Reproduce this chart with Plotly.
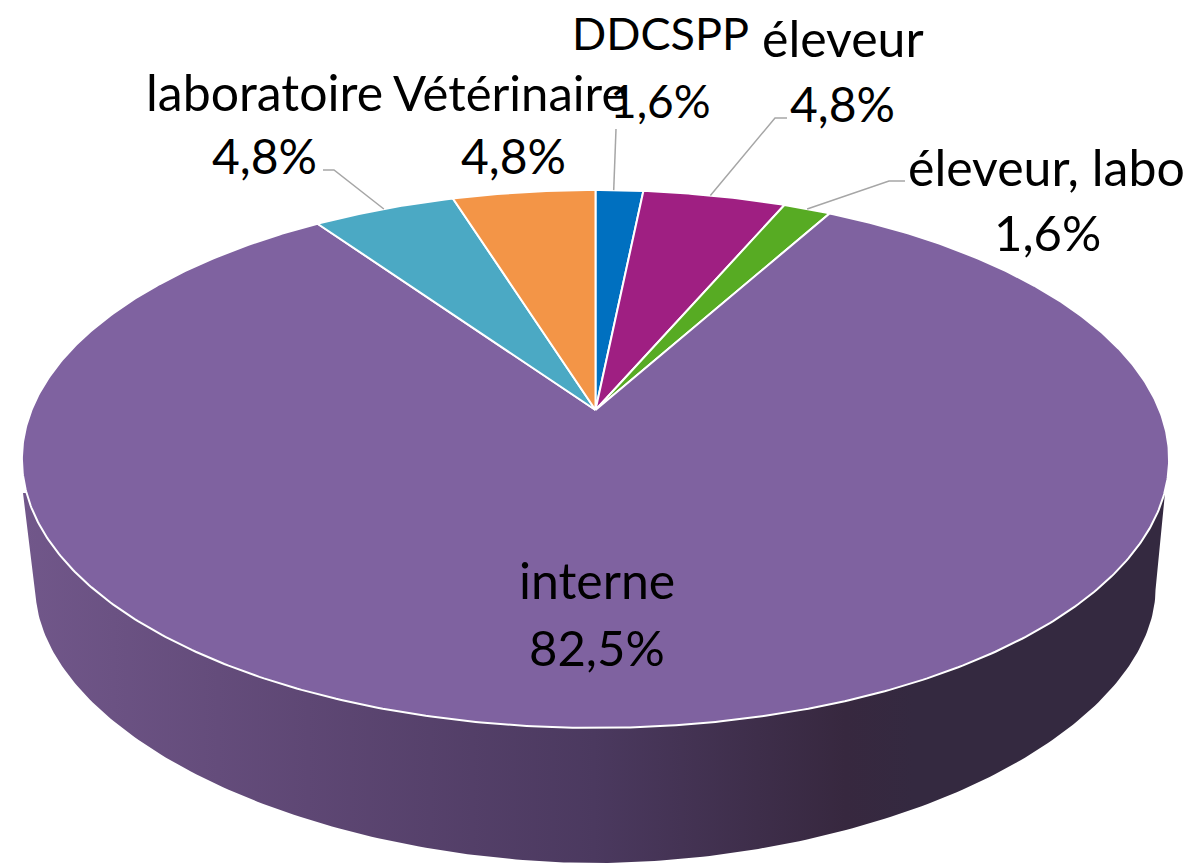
import numpy as np
import plotly.graph_objects as go

# Data
categories = ["DDCSPP", "éleveur", "éleveur, labo", "interne", "laboratoire", "Vétérinaire"]
percents = [1.6, 4.8, 1.6, 82.5, 4.8, 4.8]
slice_colors = ["#0070C0", "#9F1F82", "#57AB23", "#7F62A0", "#4BA9C4", "#F39547"]

# Label placement (centre of name line, centre of value line)
name_x = [660, 843, 1046, 597, 264, 510]
name_y = [33, 38, 167, 580, 92, 92]
value_x = [660, 842, 1047, 597, 264, 513]
value_y = [100, 103, 232, 647, 155, 155]
name_sizes = [45, 50, 50, 50, 50, 49]
value_sizes = [46, 48, 49, 49, 48, 48]
# Leader lines: [outer end, elbow] per category, and where along the slice's arc they end
leaders = {0: [(616, 129)], 1: [(787, 118), (775, 118)], 2: [(905, 181), (889, 181)],
           4: [(323, 170), (334, 170)]}
leader_share = {0: 0.38, 1: 0.47, 2: 0.5, 4: 0.5}

# Perspective of the tilted disc
CX, R, PERSP = 595.5, 564.0, 0.182
B, A = 410.0, -185.4


def project(theta):
    """Angle clockwise from 12 o'clock -> picture position."""
    u, v = np.sin(theta), np.cos(theta)
    w = 1 + PERSP * v
    return CX + R * u / w, (A * v + B) / w


fractions = np.array(percents) / sum(percents)
edges = np.concatenate([[0], np.cumsum(fractions)]) * 2 * np.pi

fig = go.Figure()

# Side wall
BOT_R, BOT_C, BOT_H, BOT_P = 560.0, 590.0, 273.0, 1.9
t = np.linspace(np.pi, 0, 241)
c, s = np.cos(t), np.sin(t)
wall_x = np.concatenate([[23], CX + BOT_R * np.sign(c) * np.abs(c) ** (2 / BOT_P), [1165]])
wall_y = np.concatenate([[493], BOT_C + BOT_H * s ** (2 / BOT_P), [493]])
fig.add_trace(go.Scatter(
    x=wall_x, y=wall_y, mode="lines", line=dict(width=0), fill="toself",
    fillgradient=dict(type="horizontal", colorscale=[
        [0.0, "#71578A"], [0.25, "#5E4774"], [0.5, "#4B395F"],
        [0.72, "#37283F"], [0.78, "#342940"], [1.0, "#342940"]]),
    hoverinfo="skip", showlegend=False))

# Top face slices
for i, name in enumerate(categories):
    th = np.linspace(edges[i], edges[i + 1], max(3, int((edges[i + 1] - edges[i]) * 120)))
    x, y = project(th)
    fig.add_trace(go.Scatter(
        x=np.concatenate([[CX], x, [CX]]), y=np.concatenate([[B], y, [B]]),
        mode="lines", line=dict(color="white", width=2), fill="toself",
        fillcolor=slice_colors[i], name=name, hoverinfo="skip", showlegend=False))

# Leader lines, ending on the rim of each slice
for i, pts in leaders.items():
    rim = project(edges[i] + (edges[i + 1] - edges[i]) * leader_share[i])
    xs = [p[0] for p in pts] + [float(rim[0])]
    ys = [p[1] for p in pts] + [float(rim[1])]
    fig.add_trace(go.Scatter(x=xs, y=ys, mode="lines", line=dict(color="#A6A6A6", width=1.5),
                             hoverinfo="skip", showlegend=False))

# Labels
annotations = []
for i, name in enumerate(categories):
    val = f"{percents[i]:.1f}%".replace(".", ",")
    for txt, ax, ay, fs in ((name, name_x[i], name_y[i], name_sizes[i]),
                            (val, value_x[i], value_y[i], value_sizes[i])):
        annotations.append(dict(x=ax, y=ay, text=txt, showarrow=False, xanchor="center", yanchor="middle",
                                font=dict(family="Lato", size=fs, color="black")))

fig.update_layout(
    width=1204, height=865, margin=dict(l=0, r=0, t=0, b=0),
    paper_bgcolor="white", plot_bgcolor="white", showlegend=False,
    xaxis=dict(range=[0, 1204], visible=False, fixedrange=True),
    yaxis=dict(range=[865, 0], visible=False, fixedrange=True),
    annotations=annotations)

fig.write_html("out.html", post_script="document.body.style.margin='0';document.body.style.overflow='hidden';",
               config={"displayModeBar": False})
